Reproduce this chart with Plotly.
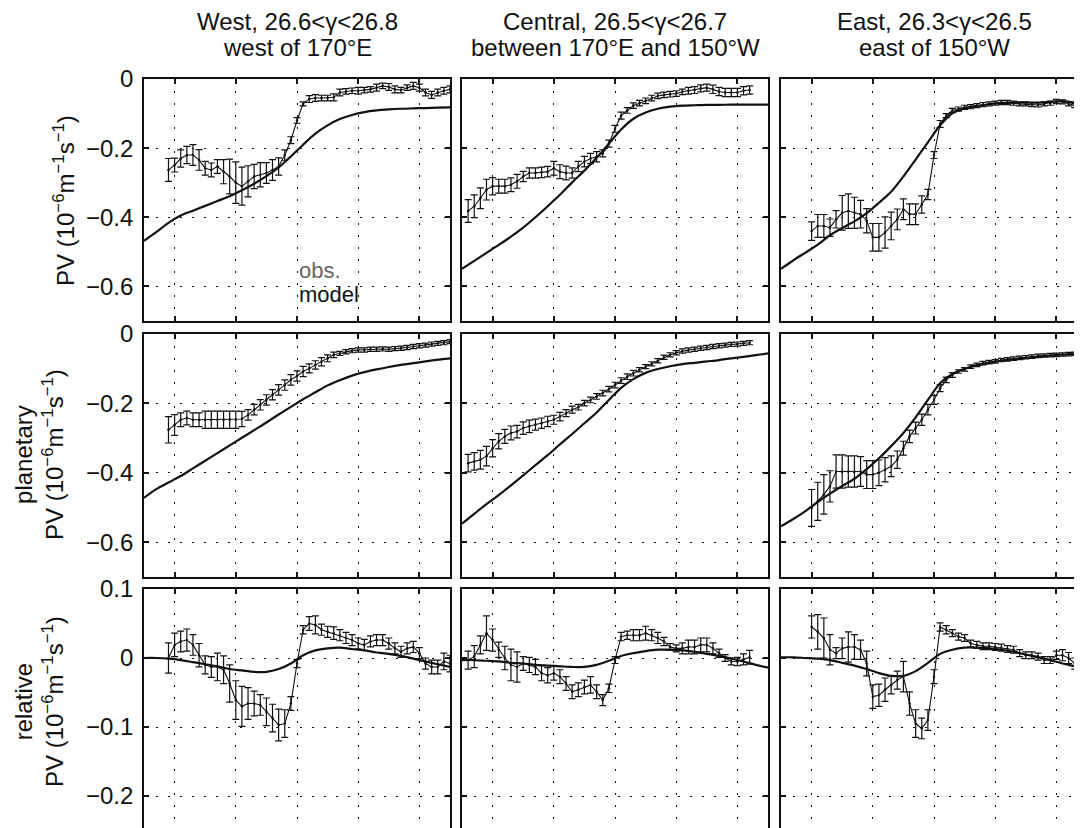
"""PV along the mode-water path: obs (with error bars) vs model, 3 regions x 3 PV terms"""

import plotly.graph_objects as go

FONT = "Liberation Sans, Arial, Helvetica, sans-serif"
FIG_W, FIG_H = 1082, 828

# ---- data ----------------------------------------------------------------
COL_TITLES = [
    ("West, 26.6<γ<26.8", "west of 170°E"),
    ("Central, 26.5<γ<26.7", "between 170°E and 150°W"),
    ("East, 26.3<γ<26.5", "east of 150°W"),
]
PV_UNIT = "PV (10<sup>−6</sup>m<sup>−1</sup>s<sup>−1</sup>)"
ROW_LABELS = [PV_UNIT, "planetary<br>" + PV_UNIT, "relative<br>" + PV_UNIT]

X_TICKS = [10, 15, 20, 25, 30]
PV_TICKS = [0, -0.2, -0.4, -0.6]
PV_TICK_TEXT = ["0", "−0.2", "−0.4", "−0.6"]
REL_TICKS = [0.1, 0, -0.1, -0.2]
REL_TICK_TEXT = ["0.1", "0", "−0.1", "−0.2"]

OBS_X_W = [9.5, 10, 10.5, 11, 11.5, 12, 12.5, 13, 13.5, 14, 14.5, 15, 15.5, 16,
           16.5, 17, 17.5, 18, 18.5, 19, 19.5, 20, 20.5, 21, 21.5, 22, 22.5, 23,
           23.5, 24, 24.5, 25, 25.5, 26, 26.5, 27, 27.5, 28, 28.5, 29, 29.5, 30,
           30.5, 31, 31.5, 32, 32.5]
OBS_X_C = [8, 8.5, 9, 9.5, 10, 10.5, 11, 11.5, 12, 12.5, 13, 13.5, 14, 14.5, 15,
           15.5, 16, 16.5, 17, 17.5, 18, 18.5, 19, 19.5, 20, 20.5, 21, 21.5, 22,
           22.5, 23, 23.5, 24, 24.5, 25, 25.5, 26, 26.5, 27, 27.5, 28, 28.5, 29,
           29.5, 30, 30.5, 31]
OBS_X_E = [10, 10.5, 11, 11.5, 12, 12.5, 13, 13.5, 14, 14.5, 15, 15.5, 16, 16.5,
           17, 17.5, 18, 18.5, 19, 19.5, 20, 20.5, 21, 21.5, 22, 22.5, 23, 23.5,
           24, 24.5, 25, 25.5, 26, 26.5, 27, 27.5, 28, 28.5, 29, 29.5, 30, 30.5,
           31, 31.5, 32]
MODEL_X = [7.5, 8.5, 9.5, 10.5, 11.5, 12.5, 13.5, 14.5, 15.5, 16.5, 17.5, 18.5,
           19.5, 20.5, 21.5, 22.5, 23.5, 24.5, 25.5, 26.5, 27.5, 28.5, 29.5, 30.5,
           31.5, 32.5]

# total PV
TOT_OBS_W = [-0.263, -0.249, -0.23, -0.22, -0.22, -0.234, -0.258, -0.263, -0.253, -0.268,
             -0.282, -0.30, -0.31, -0.296, -0.282, -0.277, -0.272, -0.263, -0.253, -0.22,
             -0.177, -0.12, -0.072, -0.058, -0.055, -0.055, -0.055, -0.053, -0.039, -0.036,
             -0.034, -0.034, -0.032, -0.03, -0.025, -0.02, -0.023, -0.03, -0.032, -0.025,
             -0.02, -0.025, -0.039, -0.046, -0.039, -0.034, -0.03]
TOT_ERR_W = [0.033, 0.02, 0.025, 0.025, 0.03, 0.03, 0.02, 0.02, 0.02, 0.035,
             0.05, 0.06, 0.055, 0.045, 0.035, 0.035, 0.03, 0.03, 0.025, 0.015,
             0.01, 0.008, 0.006, 0.01, 0.01, 0.008, 0.008, 0.01, 0.01, 0.008,
             0.008, 0.01, 0.008, 0.008, 0.01, 0.008, 0.01, 0.01, 0.008, 0.008,
             0.01, 0.01, 0.01, 0.01, 0.01, 0.01, 0.01]
TOT_MOD_W = [-0.468, -0.443, -0.416, -0.395, -0.381, -0.367, -0.353, -0.339, -0.322, -0.303,
             -0.281, -0.256, -0.224, -0.19, -0.158, -0.134, -0.116, -0.104, -0.096, -0.091,
             -0.088, -0.086, -0.085, -0.084, -0.083, -0.082]

TOT_OBS_C = [-0.382, -0.368, -0.345, -0.32, -0.31, -0.31, -0.31, -0.306, -0.296, -0.282,
             -0.272, -0.272, -0.27, -0.268, -0.258, -0.268, -0.272, -0.272, -0.253, -0.239,
             -0.23, -0.225, -0.215, -0.187, -0.144, -0.106, -0.091, -0.077, -0.07, -0.063,
             -0.055, -0.049, -0.046, -0.044, -0.042, -0.037, -0.034, -0.032, -0.027, -0.025,
             -0.03, -0.036, -0.039, -0.039, -0.039, -0.034, -0.032]
TOT_ERR_C = [0.033, 0.033, 0.03, 0.03, 0.025, 0.02, 0.02, 0.02, 0.02, 0.015,
             0.015, 0.015, 0.015, 0.015, 0.02, 0.02, 0.02, 0.015, 0.015, 0.015,
             0.015, 0.015, 0.01, 0.01, 0.01, 0.01, 0.008, 0.008, 0.008, 0.008,
             0.008, 0.008, 0.008, 0.008, 0.008, 0.008, 0.01, 0.01, 0.01, 0.01,
             0.012, 0.012, 0.012, 0.012, 0.012, 0.012, 0.012]
TOT_MOD_C = [-0.549, -0.526, -0.503, -0.48, -0.456, -0.43, -0.40, -0.368, -0.335, -0.299,
             -0.265, -0.228, -0.187, -0.146, -0.115, -0.097, -0.086, -0.08, -0.077, -0.076,
             -0.075, -0.075, -0.074, -0.074, -0.074, -0.074]

TOT_OBS_E = [-0.44, -0.425, -0.425, -0.43, -0.406, -0.387, -0.382, -0.387, -0.391, -0.41,
             -0.458, -0.458, -0.444, -0.425, -0.406, -0.377, -0.391, -0.391, -0.363, -0.334,
             -0.22, -0.13, -0.106, -0.091, -0.087, -0.082, -0.08, -0.077, -0.074, -0.072,
             -0.07, -0.068, -0.068, -0.07, -0.072, -0.072, -0.074, -0.075, -0.072, -0.07,
             -0.065, -0.066, -0.072, -0.077, -0.077]
TOT_ERR_E = [0.027, 0.033, 0.033, 0.025, 0.025, 0.05, 0.05, 0.045, 0.04, 0.035,
             0.04, 0.04, 0.045, 0.04, 0.03, 0.03, 0.03, 0.03, 0.025, 0.015,
             0.01, 0.01, 0.006, 0.006, 0.006, 0.006, 0.006, 0.006, 0.006, 0.006,
             0.006, 0.006, 0.006, 0.006, 0.006, 0.006, 0.006, 0.006, 0.006, 0.006,
             0.006, 0.006, 0.006, 0.006, 0.006]
TOT_MOD_E = [-0.549, -0.525, -0.502, -0.479, -0.452, -0.431, -0.412, -0.388, -0.358, -0.326,
             -0.282, -0.233, -0.183, -0.134, -0.099, -0.085, -0.078, -0.073, -0.069, -0.068,
             -0.068, -0.068, -0.066, -0.064, -0.068, -0.072]

# planetary PV
PLN_OBS_W = [-0.276, -0.262, -0.247, -0.242, -0.247, -0.247, -0.247, -0.247, -0.247, -0.247,
             -0.247, -0.247, -0.245, -0.233, -0.218, -0.204, -0.19, -0.175, -0.161, -0.147,
             -0.132, -0.121, -0.108, -0.099, -0.089, -0.08, -0.07, -0.06, -0.056, -0.051,
             -0.048, -0.046, -0.046, -0.044, -0.044, -0.043, -0.044, -0.042, -0.041, -0.039,
             -0.036, -0.034, -0.032, -0.029, -0.027, -0.025, -0.022]
PLN_ERR_W = [0.038, 0.03, 0.02, 0.02, 0.02, 0.02, 0.025, 0.025, 0.025, 0.025,
             0.025, 0.025, 0.022, 0.015, 0.015, 0.015, 0.015, 0.015, 0.015, 0.015,
             0.015, 0.015, 0.015, 0.013, 0.012, 0.012, 0.01, 0.008, 0.006, 0.006,
             0.006, 0.006, 0.006, 0.006, 0.006, 0.006, 0.006, 0.006, 0.006, 0.006,
             0.006, 0.006, 0.006, 0.006, 0.006, 0.006, 0.006]
PLN_MOD_W = [-0.472, -0.447, -0.428, -0.409, -0.387, -0.365, -0.343, -0.321, -0.299, -0.277,
             -0.255, -0.232, -0.21, -0.188, -0.168, -0.148, -0.133, -0.12, -0.11, -0.102,
             -0.095, -0.089, -0.084, -0.079, -0.074, -0.07]

PLN_OBS_C = [-0.372, -0.367, -0.362, -0.352, -0.329, -0.309, -0.295, -0.285, -0.281, -0.271,
             -0.266, -0.261, -0.257, -0.252, -0.247, -0.238, -0.228, -0.218, -0.211, -0.199,
             -0.19, -0.18, -0.17, -0.159, -0.147, -0.134, -0.123, -0.113, -0.103, -0.094,
             -0.086, -0.077, -0.067, -0.06, -0.054, -0.049, -0.046, -0.044, -0.041, -0.039,
             -0.036, -0.034, -0.032, -0.03, -0.029, -0.027, -0.025]
PLN_ERR_C = [0.025, 0.025, 0.027, 0.028, 0.025, 0.022, 0.02, 0.02, 0.018, 0.018,
             0.018, 0.016, 0.015, 0.015, 0.013, 0.012, 0.01, 0.01, 0.008, 0.008,
             0.008, 0.008, 0.008, 0.008, 0.008, 0.008, 0.008, 0.008, 0.006, 0.006,
             0.006, 0.006, 0.006, 0.006, 0.006, 0.006, 0.006, 0.006, 0.006, 0.006,
             0.006, 0.006, 0.006, 0.006, 0.006, 0.006, 0.006]
PLN_MOD_C = [-0.546, -0.518, -0.49, -0.464, -0.436, -0.407, -0.378, -0.349, -0.318, -0.288,
             -0.257, -0.226, -0.19, -0.155, -0.13, -0.112, -0.101, -0.093, -0.087, -0.083,
             -0.079, -0.075, -0.07, -0.066, -0.061, -0.056]

PLN_OBS_E = [-0.501, -0.482, -0.462, -0.439, -0.396, -0.396, -0.396, -0.396, -0.396, -0.405,
             -0.405, -0.40, -0.391, -0.381, -0.362, -0.329, -0.295, -0.271, -0.247, -0.218,
             -0.19, -0.156, -0.132, -0.118, -0.108, -0.102, -0.094, -0.089, -0.084, -0.081,
             -0.079, -0.075, -0.073, -0.071, -0.069, -0.067, -0.065, -0.063, -0.062, -0.061,
             -0.06, -0.059, -0.058, -0.057, -0.057]
PLN_ERR_E = [0.053, 0.055, 0.057, 0.045, 0.048, 0.048, 0.045, 0.045, 0.043, 0.04,
             0.04, 0.037, 0.035, 0.03, 0.025, 0.02, 0.018, 0.017, 0.016, 0.015,
             0.013, 0.01, 0.008, 0.007, 0.005, 0.005, 0.005, 0.005, 0.005, 0.005,
             0.005, 0.005, 0.005, 0.005, 0.005, 0.005, 0.005, 0.005, 0.005, 0.005,
             0.005, 0.005, 0.005, 0.005, 0.005]
PLN_MOD_E = [-0.554, -0.533, -0.51, -0.484, -0.46, -0.438, -0.417, -0.389, -0.358, -0.323,
             -0.285, -0.24, -0.19, -0.142, -0.115, -0.1, -0.09, -0.083, -0.077, -0.073,
             -0.069, -0.065, -0.062, -0.059, -0.057, -0.055]

# relative PV
REL_OBS_W = [0.0, 0.019, 0.024, 0.026, 0.019, 0.004, -0.01, -0.013, -0.013, -0.017,
             -0.037, -0.061, -0.07, -0.066, -0.066, -0.068, -0.078, -0.087, -0.097, -0.095,
             -0.066, -0.008, 0.041, 0.05, 0.048, 0.041, 0.038, 0.036, 0.033, 0.029,
             0.026, 0.021, 0.019, 0.024, 0.026, 0.026, 0.021, 0.014, 0.009, 0.014,
             0.016, 0.007, -0.008, -0.013, -0.013, -0.005, -0.008]
REL_ERR_W = [0.022, 0.017, 0.015, 0.016, 0.015, 0.017, 0.013, 0.015, 0.02, 0.02,
             0.027, 0.028, 0.029, 0.023, 0.018, 0.015, 0.02, 0.02, 0.023, 0.02,
             0.01, 0.006, 0.006, 0.01, 0.013, 0.008, 0.008, 0.009, 0.008, 0.008,
             0.008, 0.008, 0.008, 0.008, 0.008, 0.008, 0.008, 0.008, 0.008, 0.008,
             0.008, 0.008, 0.008, 0.01, 0.01, 0.012, 0.012]
REL_MOD_W = [0.0, 0.0, -0.001, -0.003, -0.006, -0.009, -0.012, -0.016, -0.018, -0.02,
             -0.02, -0.016, -0.008, 0.004, 0.011, 0.014, 0.015, 0.013, 0.011, 0.008,
             0.006, 0.003, -0.001, -0.005, -0.009, -0.013]

REL_OBS_C = [-0.003, 0.002, 0.019, 0.036, 0.026, 0.012, 0.0, -0.01, -0.013, -0.008,
             -0.01, -0.013, -0.022, -0.025, -0.022, -0.027, -0.037, -0.049, -0.046, -0.042,
             -0.039, -0.049, -0.061, -0.044, -0.003, 0.031, 0.033, 0.033, 0.033, 0.036,
             0.033, 0.029, 0.024, 0.016, 0.014, 0.014, 0.016, 0.016, 0.019, 0.019,
             0.014, 0.007, 0.0, -0.005, -0.005, -0.002, 0.001]
REL_ERR_C = [0.013, 0.016, 0.013, 0.025, 0.016, 0.011, 0.017, 0.023, 0.022, 0.01,
             0.011, 0.011, 0.011, 0.011, 0.01, 0.01, 0.01, 0.01, 0.01, 0.01,
             0.012, 0.01, 0.008, 0.006, 0.005, 0.006, 0.006, 0.008, 0.008, 0.01,
             0.008, 0.008, 0.006, 0.005, 0.005, 0.008, 0.01, 0.01, 0.01, 0.01,
             0.008, 0.006, 0.005, 0.005, 0.006, 0.008, 0.01]
REL_MOD_C = [-0.003, -0.003, -0.004, -0.005, -0.007, -0.008, -0.01, -0.011, -0.012, -0.013,
             -0.013, -0.01, -0.004, 0.003, 0.007, 0.01, 0.012, 0.012, 0.011, 0.009,
             0.006, 0.003, -0.001, -0.005, -0.01, -0.014]

REL_OBS_E = [0.045, 0.038, 0.029, 0.012, 0.007, 0.014, 0.016, 0.016, 0.012, -0.008,
             -0.056, -0.054, -0.046, -0.039, -0.032, -0.027, -0.066, -0.095, -0.102, -0.09,
             -0.027, 0.045, 0.041, 0.036, 0.031, 0.029, 0.021, 0.019, 0.017, 0.017,
             0.016, 0.015, 0.013, 0.012, 0.007, 0.004, 0.004, 0.002, -0.003, -0.003,
             0.004, 0.004, 0.0, -0.008, -0.013]
REL_ERR_E = [0.016, 0.025, 0.029, 0.022, 0.008, 0.015, 0.022, 0.018, 0.014, 0.018,
             0.017, 0.016, 0.017, 0.013, 0.013, 0.022, 0.017, 0.02, 0.015, 0.015,
             0.01, 0.006, 0.006, 0.005, 0.005, 0.005, 0.005, 0.005, 0.005, 0.005,
             0.005, 0.005, 0.005, 0.005, 0.005, 0.005, 0.005, 0.005, 0.005, 0.005,
             0.006, 0.008, 0.008, 0.008, 0.008]
REL_MOD_E = [0.001, 0.001, 0.0, -0.001, -0.003, -0.007, -0.011, -0.016, -0.022, -0.026,
             -0.026, -0.019, -0.007, 0.006, 0.012, 0.015, 0.015, 0.014, 0.012, 0.009,
             0.005, 0.001, -0.003, -0.008, -0.012, -0.016]

OBS_LABEL, MODEL_LABEL = "obs.", "model"

# ---- layout geometry (screen pixels as seen in the page) -----------------
PAGE_OFFSET = 8            # default <body> margin around the plot div
COL_PX = [(144, 450), (462, 768), (781, 1087)]
ROW_PX = [(79, 321), (334, 577), (589, 836)]
X_RANGE = [7.5, 32.5]
Y_RANGES = [(-0.7, 0.0), (-0.7, 0.0), (0.1 - 247 / 690.0, 0.1)]

INK = "#111111"
GRID_DASH = "2px,10px"

obs_x = [OBS_X_W, OBS_X_C, OBS_X_E]
rows = [
    [(TOT_OBS_W, TOT_ERR_W, TOT_MOD_W), (TOT_OBS_C, TOT_ERR_C, TOT_MOD_C), (TOT_OBS_E, TOT_ERR_E, TOT_MOD_E)],
    [(PLN_OBS_W, PLN_ERR_W, PLN_MOD_W), (PLN_OBS_C, PLN_ERR_C, PLN_MOD_C), (PLN_OBS_E, PLN_ERR_E, PLN_MOD_E)],
    [(REL_OBS_W, REL_ERR_W, REL_MOD_W), (REL_OBS_C, REL_ERR_C, REL_MOD_C), (REL_OBS_E, REL_ERR_E, REL_MOD_E)],
]


def px_x(sx):
    return min(1.0, max(0.0, (sx - PAGE_OFFSET) / FIG_W))


def px_y(sy):
    return min(1.0, max(0.0, 1 - (sy - PAGE_OFFSET) / FIG_H))


fig = go.Figure()
layout = {}

for r in range(3):
    for c in range(3):
        k = r * 3 + c
        sfx = "" if k == 0 else str(k + 1)
        obs, err, mod = rows[r][c]

        fig.add_trace(go.Scatter(
            x=MODEL_X, y=mod, mode="lines",
            line=dict(color=INK, width=2.2, shape="spline", smoothing=0.8),
            xaxis="x" + sfx, yaxis="y" + sfx, showlegend=False,
        ))
        fig.add_trace(go.Scatter(
            x=obs_x[c], y=obs, mode="lines+markers",
            line=dict(color=INK, width=1.1),
            marker=dict(color=INK, size=2.5),
            error_y=dict(type="data", array=err, visible=True,
                         color=INK, thickness=1.2, width=3.5),
            xaxis="x" + sfx, yaxis="y" + sfx, showlegend=False,
        ))

        x0, x1 = COL_PX[c]
        y0, y1 = ROW_PX[r]

        xa = dict(
            domain=[px_x(x0), px_x(x1)], range=X_RANGE,
            anchor="y" + sfx, tickvals=X_TICKS, showticklabels=False,
            ticks="inside", ticklen=5, tickwidth=1.5, tickcolor=INK,
            showline=True, linecolor=INK, linewidth=1.6, mirror="ticks",
            showgrid=True, gridcolor=INK, gridwidth=1.4, griddash=GRID_DASH,
            zeroline=False, fixedrange=True, automargin=False,
        )
        tv, tt = (REL_TICKS, REL_TICK_TEXT) if r == 2 else (PV_TICKS, PV_TICK_TEXT)
        ya = dict(
            domain=[px_y(y1), px_y(y0)], range=list(Y_RANGES[r]),
            anchor="x" + sfx, tickvals=tv, ticktext=tt,
            showticklabels=(c == 0),
            tickfont=dict(family=FONT, size=24, color=INK),
            ticks="inside", ticklen=5, tickwidth=1.5, tickcolor=INK,
            showline=True, linecolor=INK, linewidth=1.6, mirror="ticks",
            showgrid=True, gridcolor=INK, gridwidth=1.4, griddash=GRID_DASH,
            zeroline=False, fixedrange=True, automargin=False,
            ticklabelstandoff=4,
        )
        layout["xaxis" + sfx] = xa
        layout["yaxis" + sfx] = ya

annotations = []
for c, (line1, line2) in enumerate(COL_TITLES):
    cx = px_x(sum(COL_PX[c]) / 2)
    for text, py in ((line1, 22), (line2, 48)):
        annotations.append(dict(
            x=cx, y=px_y(py), xref="paper", yref="paper", text=text,
            showarrow=False, xanchor="center", yanchor="middle",
            font=dict(family=FONT, size=24, color=INK),
        ))

for label, lx, ly in zip(ROW_LABELS, (64, 39, 39), (201, 455, 702)):
    annotations.append(dict(
        x=px_x(lx), y=px_y(ly), xref="paper", yref="paper", text=label,
        showarrow=False, textangle=-90, xanchor="center", yanchor="middle",
        font=dict(family=FONT, size=24, color=INK),
    ))

annotations.append(dict(
    x=20, y=-0.553, xref="x", yref="y", text=OBS_LABEL, showarrow=False,
    xanchor="left", yanchor="middle", font=dict(family=FONT, size=22, color="#666666"),
))
annotations.append(dict(
    x=20, y=-0.622, xref="x", yref="y", text=MODEL_LABEL, showarrow=False,
    xanchor="left", yanchor="middle", font=dict(family=FONT, size=22, color=INK),
))

fig.update_layout(
    template="none",
    width=FIG_W, height=FIG_H, autosize=False,
    margin=dict(l=0, r=0, t=0, b=0, pad=0),
    paper_bgcolor="white", plot_bgcolor="white",
    font=dict(family=FONT, color=INK),
    annotations=annotations,
    **layout,
)

fig.write_html("out.html")
